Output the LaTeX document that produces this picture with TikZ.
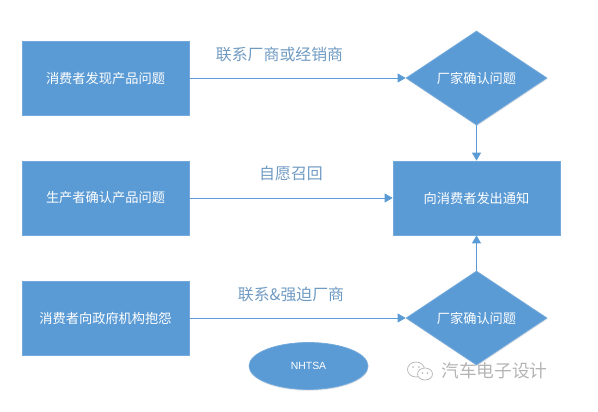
\documentclass[tikz,border=0pt]{standalone}
\usepackage{fontspec}
\setmainfont{Liberation Sans}
\newfontfamily\cjk{Noto Sans CJK SC}
\usetikzlibrary{
    shapes.geometric,
    arrows.meta,
    shadows
}
\definecolor{Ablue}{HTML}{5B9BD5}
\definecolor{Atext}{HTML}{6F9AC2}
\definecolor{Amark}{HTML}{B4B4B4}
\tikzset{
    boxnode/.style={draw=Ablue!85!white, line width=0.5pt, fill=Ablue, text=white, font=\fontsize{9.4pt}{11pt}\cjk,
        minimum width=4.175cm, minimum height=1.85cm, inner sep=0pt,
        drop shadow={shadow xshift=0.3pt, shadow yshift=-0.9pt, opacity=0.18}},
    decnode/.style={boxnode, diamond, aspect=1.5, minimum width=3.525cm, minimum height=2.35cm},
    ovalnode/.style={boxnode, ellipse, font=\fontsize{7.4pt}{9pt}\selectfont, minimum width=2.975cm, minimum height=1.175cm},
    flowlabel/.style={text=Atext, font=\fontsize{11.3pt}{13pt}\cjk, inner sep=0pt},
    flowline/.style={draw=Ablue, line width=0.6pt, -{Triangle[length=5.7pt,width=6.4pt]}},
}
\begin{document}
\begin{tikzpicture}[x=0.025cm, y=-0.025cm]

\useasboundingbox (0,0) rectangle (598,412);

% Left column
\node[boxnode] (found)    at (105.5,78)  {消费者发现产品问题};
\node[boxnode] (maker)    at (105.5,198) {生产者确认产品问题};
\node[boxnode] (complain) at (105.5,318) {消费者向政府机构抱怨};

% Right column
\node[decnode] (checktop) at (476.5,78)  {厂家确认问题};
\node[boxnode] (notify)   at (476.5,198) {向消费者发出通知};
\node[decnode] (checkbot) at (476.5,318) {厂家确认问题};

\node[ovalnode] (nhtsa) at (308.5,366) {NHTSA};

% Labels over the lines
\node[flowlabel] (contact) at (279.5,54)  {联系厂商或经销商};
\node[flowlabel] (recall)  at (291,173)   {自愿召回};
\node[flowlabel] (force)   at (291,294)   {联系\&强迫厂商};

% Connectors
\draw[flowline] (found) -- (checktop);
\draw[flowline] (maker) -- (notify);
\draw[flowline] (complain) -- (checkbot);
\draw[flowline] (checktop) -- (notify);
\draw[flowline] (checkbot) -- (notify);

% Watermark
\node[text=Amark, font=\fontsize{12.6pt}{14pt}\cjk, inner sep=0pt] (mark) at (494.5,371) {汽车电子设计};
\draw[Amark, line width=0.5pt, fill=white] (416,369.5) ellipse (8.5 and 7.5);
\draw[Amark, line width=0.5pt, fill=white] (425,374) ellipse (7.5 and 6);
\fill[Amark] (413,367) circle (0.9) (419,367) circle (0.9) (422.5,373) circle (0.8) (427.5,373) circle (0.8);

\end{tikzpicture}
\end{document}
